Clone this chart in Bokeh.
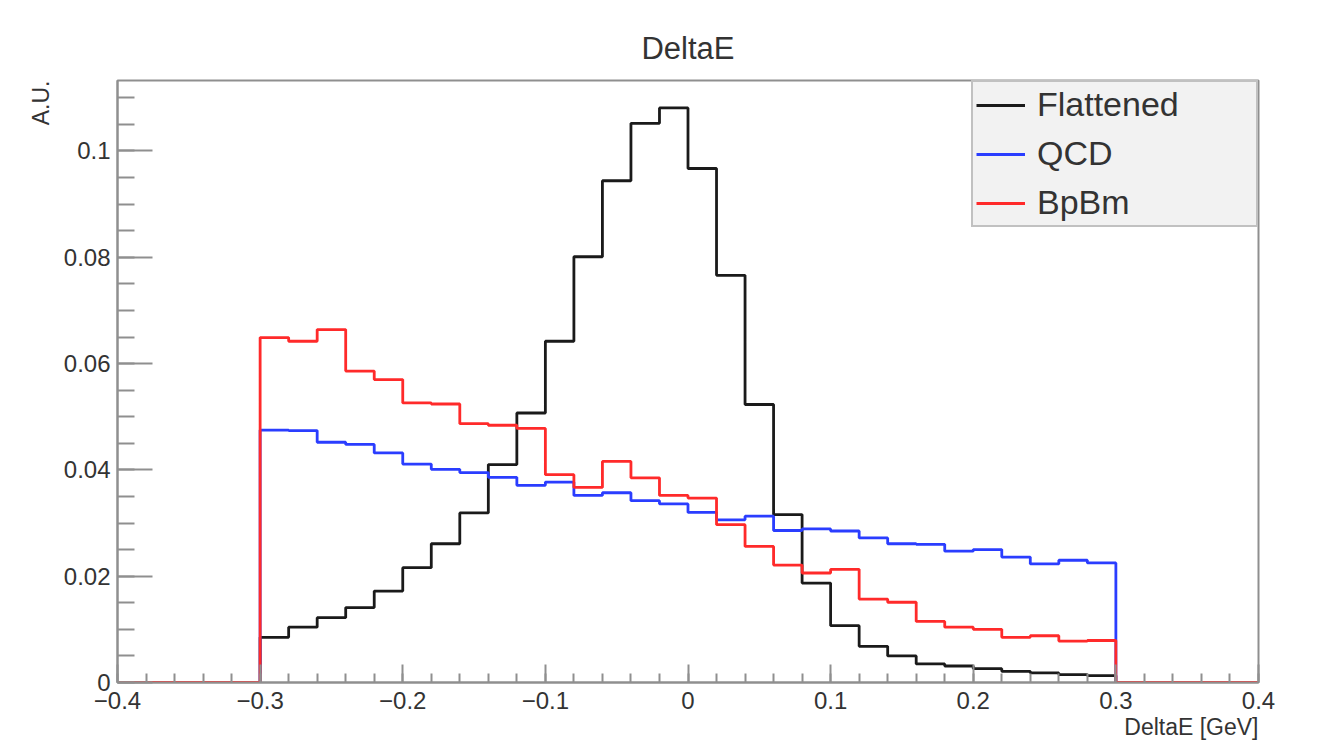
from bokeh.plotting import figure
from bokeh.models import Range1d, FixedTicker, Legend, LegendItem, Title
from bokeh.embed import file_html
from bokeh.resources import INLINE

# ---------------- data ----------------
bin_edges = [-0.40, -0.38, -0.36, -0.34, -0.32, -0.30, -0.28, -0.26, -0.24, -0.22,
             -0.20, -0.18, -0.16, -0.14, -0.12, -0.10, -0.08, -0.06, -0.04, -0.02,
             0.00, 0.02, 0.04, 0.06, 0.08, 0.10, 0.12, 0.14, 0.16, 0.18,
             0.20, 0.22, 0.24, 0.26, 0.28, 0.30, 0.32, 0.34, 0.36, 0.38, 0.40]

flattened = [0, 0, 0, 0, 0,
             0.0085, 0.0104, 0.0122, 0.0141, 0.0172, 0.0216, 0.0261, 0.0319, 0.0410, 0.0507,
             0.0642, 0.0801, 0.0944, 0.1052, 0.1081, 0.0967, 0.0766, 0.0523, 0.0316, 0.0187,
             0.0107, 0.0068, 0.0050, 0.0035, 0.0031, 0.0026, 0.0021, 0.0018, 0.0015, 0.0013,
             0, 0, 0, 0, 0]

qcd = [0, 0, 0, 0, 0,
       0.0475, 0.0474, 0.0452, 0.0448, 0.0432, 0.0411, 0.0401, 0.0395, 0.0386, 0.0371,
       0.0377, 0.0352, 0.0357, 0.0342, 0.0336, 0.0320, 0.0306, 0.0313, 0.0286, 0.0289,
       0.0285, 0.0272, 0.0261, 0.0260, 0.0247, 0.0250, 0.0236, 0.0223, 0.0230, 0.0225,
       0, 0, 0, 0, 0]

bpbm = [0, 0, 0, 0, 0,
        0.0649, 0.0642, 0.0664, 0.0586, 0.0570, 0.0526, 0.0524, 0.0487, 0.0484, 0.0478,
        0.0391, 0.0367, 0.0416, 0.0385, 0.0352, 0.0347, 0.0297, 0.0256, 0.0221, 0.0206,
        0.0213, 0.0157, 0.0151, 0.0115, 0.0104, 0.0100, 0.0085, 0.0088, 0.0078, 0.0079,
        0, 0, 0, 0, 0]

series_names = ["Flattened", "QCD", "BpBm"]
series_colors = ["#1a1a1a", "#2a3dff", "#ff2a2a"]

x_ticks = [-0.4, -0.3, -0.2, -0.1, 0.0, 0.1, 0.2, 0.3, 0.4]
x_tick_labels = ["\u22120.4", "\u22120.3", "\u22120.2", "\u22120.1", "0", "0.1", "0.2", "0.3", "0.4"]
y_ticks = [0.0, 0.02, 0.04, 0.06, 0.08, 0.1]
y_tick_labels = ["0", "0.02", "0.04", "0.06", "0.08", "0.1"]

title_text = "DeltaE"
x_title = "DeltaE [GeV]"
y_title = "A.U."

# ---------------- figure ----------------
FONT = "Liberation Sans"
AXIS_COL = "#8f8f8f"
TEXT_COL = "#333333"

p = figure(width=1327, height=749, output_backend="svg", toolbar_location=None,
           x_range=Range1d(-0.4, 0.4), y_range=Range1d(0, 0.11326),
           min_border_left=117, min_border_right=69, min_border_top=80, min_border_bottom=67)
p.background_fill_color = "white"
p.border_fill_color = "white"
p.outline_line_color = AXIS_COL
p.outline_line_width = 2
p.grid.visible = False

p.title.text = title_text
p.title.align = "center"
p.title.text_font = FONT
p.title.text_font_size = "31px"
p.title.text_font_style = "normal"
p.title.text_color = TEXT_COL
p.title.standoff = 30

renderers = []
for vals, name, col in zip([flattened, qcd, bpbm], series_names, series_colors):
    ys = list(vals) + [vals[-1]]
    r = p.step(bin_edges, ys, mode="after", line_color=col, line_width=2.8)
    renderers.append((name, r))

# axes
minor_x = [round(-0.4 + 0.02 * i, 2) for i in range(41)]
minor_y = [round(0.005 * i, 3) for i in range(23)]

xa = p.xaxis[0]
xa.ticker = FixedTicker(ticks=x_ticks, minor_ticks=minor_x)
xa.major_label_overrides = {t: l for t, l in zip(x_ticks, x_tick_labels)}
ya = p.yaxis[0]
ya.ticker = FixedTicker(ticks=y_ticks, minor_ticks=minor_y)
ya.major_label_overrides = {t: l for t, l in zip(y_ticks, y_tick_labels)}

for ax, maj, mnr, stand in [(xa, 18, 9, 9), (ya, 35, 17, 7)]:
    ax.axis_line_color = AXIS_COL
    ax.axis_line_width = 2
    ax.major_tick_line_color = AXIS_COL
    ax.minor_tick_line_color = AXIS_COL
    ax.major_tick_line_width = 2
    ax.minor_tick_line_width = 2
    ax.major_tick_in = maj
    ax.major_tick_out = 0
    ax.minor_tick_in = mnr
    ax.minor_tick_out = 0
    ax.major_label_text_font = FONT
    ax.major_label_text_font_size = "24px"
    ax.major_label_text_color = TEXT_COL
    ax.major_label_standoff = stand

# axis titles (ROOT style, aligned to the end of the axis)
p.add_layout(Title(text=x_title, align="right", text_font=FONT, text_font_size="23px",
                   text_font_style="normal", text_color=TEXT_COL, standoff=0, offset=0,
                   text_line_height=0.8), "below")
p.add_layout(Title(text=y_title, align="right", text_font=FONT, text_font_size="23px",
                   text_font_style="normal", text_color=TEXT_COL, standoff=14, offset=0), "left")

legend = Legend(items=[LegendItem(label=n, renderers=[r]) for n, r in renderers],
                location="top_right", margin=0, padding=3, spacing=10,
                glyph_width=49, glyph_height=38, label_height=38, label_width=216,
                label_standoff=12,
                label_text_font=FONT, label_text_font_size="34px", label_text_color=TEXT_COL,
                background_fill_color="#f2f2f2", background_fill_alpha=1.0,
                border_line_color=AXIS_COL, border_line_width=2)
p.add_layout(legend)

open("out.html", "w").write(file_html(p, INLINE))
